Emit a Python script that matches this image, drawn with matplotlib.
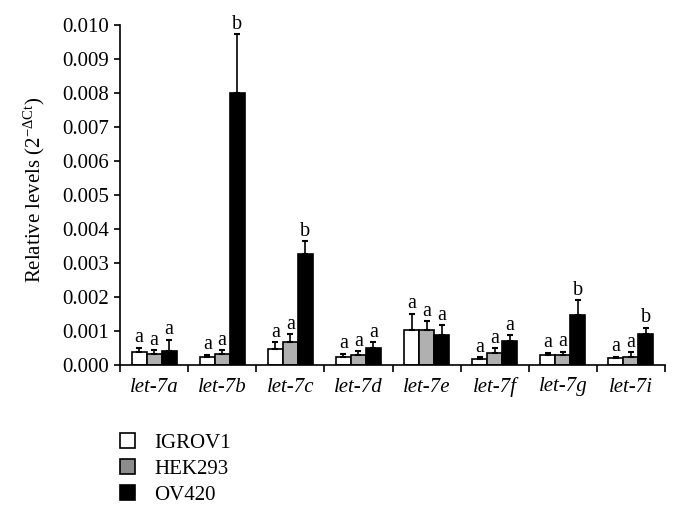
import matplotlib
matplotlib.use("Agg")
import matplotlib.pyplot as plt
from matplotlib.patches import Patch
import numpy as np

categories = ["let-7a", "let-7b", "let-7c", "let-7d", "let-7e", "let-7f", "let-7g", "let-7i"]
series = ["IGROV1", "HEK293", "OV420"]
igrov1 = [0.00037, 0.00025, 0.00047, 0.00025, 0.00102, 0.00017, 0.00030, 0.00021]
igrov1_err = [0.00014, 0.00005, 0.00020, 0.00008, 0.00049, 0.00006, 0.00006, 0.00004]
hek293 = [0.00031, 0.00033, 0.00068, 0.00029, 0.00102, 0.00036, 0.00028, 0.00023]
hek293_err = [0.00012, 0.00010, 0.00022, 0.00012, 0.00027, 0.00013, 0.00011, 0.00014]
ov420 = [0.00041, 0.00800, 0.00326, 0.00050, 0.00087, 0.00071, 0.00147, 0.00090]
ov420_err = [0.00034, 0.00173, 0.00039, 0.00017, 0.00031, 0.00016, 0.00043, 0.00020]
letters_igrov1 = ["a"] * 8
letters_hek293 = ["a"] * 8
letters_ov420 = ["a", "b", "b", "a", "a", "a", "b", "b"]
yticks = [0.000, 0.001, 0.002, 0.003, 0.004, 0.005, 0.006, 0.007, 0.008, 0.009, 0.010]

plt.rcParams["font.family"] = ["Liberation Serif", "DejaVu Serif"]
plt.rcParams["mathtext.fontset"] = "custom"
plt.rcParams["mathtext.rm"] = "Liberation Serif"
plt.rcParams["mathtext.it"] = "Liberation Serif:italic"

fig = plt.figure(figsize=(6.8, 5.15), dpi=100)
ax = fig.add_axes([120/680, 1-365/515, 545/680, 340/515])

n = len(categories)
x = np.arange(n)
w = 0.22
colors = ["white", "#b0b0b0", "black"]
data = [igrov1, hek293, ov420]
errs = [igrov1_err, hek293_err, ov420_err]
letters = [letters_igrov1, letters_hek293, letters_ov420]
offsets = [-w, 0, w]
for vals, err, col, off, let in zip(data, errs, colors, offsets, letters):
    ax.bar(x + off, vals, width=w, color=col, edgecolor="black", linewidth=1.2, zorder=2)
    ax.errorbar(x + off, vals, yerr=[np.zeros(n), err], fmt="none", ecolor="black",
                elinewidth=1.2, capsize=2.5, capthick=1.5, zorder=3)
    for xi, v, e, l in zip(x + off, vals, err, let):
        ax.text(xi, v + e + 0.00001, l, ha="center", va="bottom", fontsize=14.5)

ax.set_xlim(-0.5, n - 0.5)
ax.set_ylim(0, 0.010)
ax.set_yticks(yticks)
ax.set_yticklabels([f"{t:.3f}" for t in yticks], fontsize=15)
ax.set_xticks(np.arange(n + 1) - 0.5)
ax.set_xticklabels([])
ax.set_xticks(x, minor=True)
ax.set_xticklabels(categories, minor=True, fontsize=15, style="italic")
ax.tick_params(axis="x", which="minor", length=0, pad=9)
ax.tick_params(axis="x", which="major", length=5, width=1.2, direction="out")
ax.tick_params(axis="y", length=4, width=1.2, direction="out", pad=4)
for s in ["top", "right"]:
    ax.spines[s].set_visible(False)
for s in ["left", "bottom"]:
    ax.spines[s].set_linewidth(1.2)

fig.text(34/680, 1-190/515, r"Relative levels (2$^{-\Delta\mathrm{Ct}}$)", rotation=90,
         ha="center", va="center", fontsize=15)

handles = [Patch(facecolor=c, edgecolor="black", linewidth=1.2) for c in ["white", "#8c8c8c", "black"]]
fig.legend(handles, series, loc="upper left", bbox_to_anchor=(112/680, 1-425/515),
           frameon=False, fontsize=15, handlelength=0.72, handleheight=0.72,
           handletextpad=0.9, labelspacing=0.3, borderaxespad=0)

fig.savefig("out.png", dpi=100)
